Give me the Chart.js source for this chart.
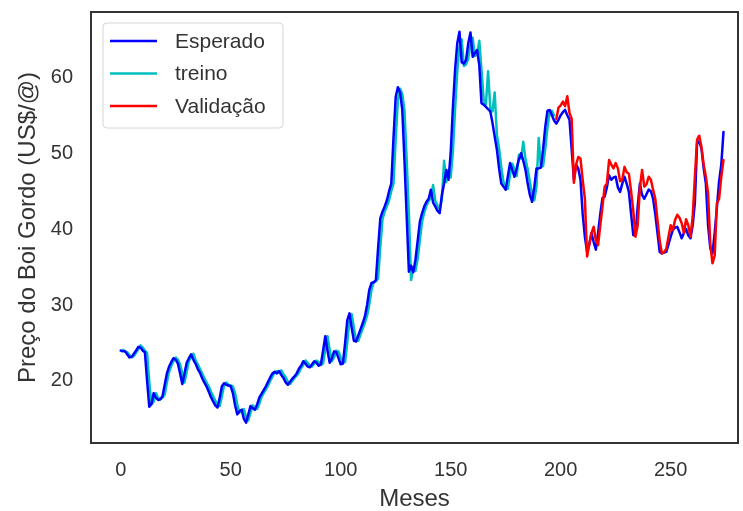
<!DOCTYPE html>
<html>
<head>
<meta charset="utf-8">
<script src="https://cdn.jsdelivr.net/npm/chart.js"></script>
<style>
  html, body { margin: 0; padding: 0; background: #fff; }
  canvas { display: block; }
</style>
</head>
<body>
<canvas id="precoChart" width="743" height="511"></canvas>
<script>
// Preço do boi gordo (mês 0..274)
const esperado = [
  24.0, 23.9, 23.9, 23.5, 23.1, 23.2, 23.6, 24.0, 24.5, 24.4,
  24.0, 23.8, 20.0, 16.6, 17.0, 18.4, 17.8, 17.5, 17.6, 18.0,
  19.5, 21.0, 21.9, 22.5, 23.0, 22.8, 22.3, 21.0, 19.6, 21.0,
  22.4, 23.0, 23.5, 22.8, 22.3, 21.6, 21.1, 20.4, 19.8, 19.3,
  18.6, 17.9, 17.3, 16.8, 16.5, 17.8, 19.3, 19.7, 19.5, 19.4,
  19.3, 18.4, 16.8, 15.6, 16.0, 16.2, 15.0, 14.5, 15.6, 16.7,
  16.4, 16.2, 16.9, 17.8, 18.3, 18.8, 19.3, 19.9, 20.5, 21.0,
  21.2, 21.0, 21.3, 20.8, 20.4, 19.8, 19.5, 19.9, 20.3, 20.6,
  21.0, 21.6, 22.0, 22.6, 22.3, 21.9, 21.8, 22.2, 22.6, 22.4,
  22.0, 22.2, 24.0, 25.9, 24.0, 22.4, 23.0, 23.9, 23.8, 23.0,
  22.2, 22.3, 25.0, 28.0, 28.9, 27.0, 25.3, 25.2, 26.0, 26.8,
  27.6, 28.5, 30.0, 32.0, 32.9, 33.0, 33.3, 37.5, 41.4, 42.3,
  43.0, 43.8, 45.0, 46.0, 52.0, 57.4, 58.7, 58.0, 55.7, 49.0,
  41.7, 34.4, 35.2, 34.3, 36.0, 38.5, 41.0, 42.1, 43.0, 43.6,
  44.0, 45.2, 43.5, 43.0, 42.4, 42.1, 44.5, 46.0, 47.8, 46.5,
  50.0, 56.0, 61.0, 64.5, 66.0, 62.0, 61.8, 62.3, 64.5, 65.9,
  62.7, 63.2, 63.6, 61.6, 56.6, 56.4, 56.1, 55.8, 55.5, 54.0,
  52.2, 50.5, 48.0, 46.0, 45.6, 45.2, 47.0, 48.7, 47.8, 46.9,
  48.0, 49.2, 50.0, 49.0, 47.8, 46.0, 44.5, 43.6, 45.5, 48.0,
  48.0, 48.1, 50.5, 53.5, 55.6, 55.7, 55.0, 54.3, 53.9, 54.4,
  55.0, 55.4, 55.7, 55.0, 54.4, 50.5, 46.5, 48.5, 48.0, 46.5,
  42.0, 39.0, 37.0, 38.0, 39.5, 38.3, 37.3, 39.5, 42.0, 44.1,
  44.3, 45.5, 47.1, 46.5, 46.8, 46.9, 45.5, 44.9, 46.0, 46.9,
  46.0, 44.9, 42.0, 39.2, 39.2, 43.0, 46.0, 44.5, 44.0, 44.6,
  45.2, 45.0, 44.0, 42.0, 39.5, 37.0, 36.8, 36.9, 37.0, 38.0,
  39.0, 39.9, 40.2, 40.3, 39.6, 38.8, 39.5, 40.0, 39.2, 38.8,
  40.5, 43.5, 51.3, 51.6, 50.6, 48.0, 46.0, 40.5, 37.5, 36.8,
  39.5, 42.8, 46.3, 48.5, 52.8
];

// previsão no conjunto de treino (meses 1..197)
const treino = [
  null, 24.1, 23.9, 23.8, 23.4, 23.1, 23.3, 23.7, 24.2, 24.7,
  24.4, 24.0, 23.7, 19.8, 16.9, 17.3, 18.4, 17.8, 17.6, 17.8,
  18.2, 19.8, 21.2, 22.0, 22.6, 23.1, 22.8, 22.2, 21.0, 19.8,
  21.2, 22.6, 23.2, 23.6, 22.8, 22.2, 21.6, 21.0, 20.4, 19.8,
  19.3, 18.6, 18.0, 17.4, 16.9, 16.7, 18.0, 19.4, 19.8, 19.5,
  19.4, 19.3, 18.4, 16.9, 15.8, 16.2, 16.3, 15.2, 14.8, 15.8,
  16.8, 16.5, 16.3, 17.0, 17.9, 18.4, 18.9, 19.4, 20.0, 20.6,
  21.1, 21.3, 21.1, 21.4, 20.9, 20.5, 19.9, 19.6, 20.0, 20.4,
  20.7, 21.1, 21.7, 22.1, 22.7, 22.4, 22.0, 21.9, 22.3, 22.7,
  22.5, 22.1, 22.3, 24.2, 25.9, 24.1, 22.6, 23.1, 24.0, 23.9,
  23.1, 22.4, 22.5, 25.1, 28.0, 28.8, 27.0, 25.4, 25.3, 26.1,
  26.9, 27.7, 28.6, 30.1, 32.0, 33.0, 33.1, 33.5, 37.6, 41.3,
  42.3, 43.0, 43.8, 45.0, 46.0, 51.8, 57.0, 58.5, 57.8, 55.6,
  49.2, 42.0, 33.3, 35.0, 34.5, 36.1, 38.6, 41.0, 42.2, 43.1,
  43.7, 44.1, 45.8, 43.7, 43.1, 42.6, 44.0, 49.0, 46.2, 47.8,
  46.8, 50.2, 55.8, 60.8, 64.0, 65.0, 61.5, 61.7, 62.5, 64.3,
  65.2, 62.8, 63.0, 64.8, 61.0, 57.0, 56.4, 60.8, 56.0, 55.5,
  58.0, 52.4, 50.6, 48.2, 46.2, 45.5, 45.3, 47.2, 48.6, 47.9,
  47.0, 49.8, 49.3, 51.5, 49.2, 47.9, 46.2, 44.7, 43.8, 45.6,
  52.0, 48.2, 48.3, 50.6, 53.4, 55.4, 55.6, 55.0
];

// previsão na validação (meses 198..274)
const validacaoInicio = 198;
const validacao = [
  54.5, 56.0, 56.3, 56.8, 56.2, 57.5, 55.3, 54.5, 46.1, 48.5,
  49.5, 49.3, 46.5, 44.0, 36.4, 38.0, 39.5, 40.3, 38.5, 37.9,
  40.5, 43.0, 45.6, 46.0, 49.1, 48.5, 48.0, 48.7, 48.0, 46.3,
  46.5, 48.2, 47.5, 47.3, 45.0, 42.4, 39.0, 40.5, 45.5, 47.8,
  45.6, 45.9, 46.9, 46.5, 45.2, 44.0, 41.2, 38.5, 36.8, 37.0,
  37.4, 39.0, 40.5, 39.9, 41.2, 41.9, 41.5, 40.8, 39.5, 41.3,
  40.5, 39.0, 41.6, 46.9, 51.8, 52.3, 50.8, 48.5, 46.9, 44.7,
  38.0, 35.5, 36.5, 43.4, 44.0, 46.9, 49.1
];

const meses = esperado.map((_, i) => i);
const xTicks = [0, 50, 100, 150, 200, 250];
const yTicks = [20, 30, 40, 50, 60];

const FONT = '"Liberation Sans", Arial, sans-serif';
const TEXT = '#333333';

function toPoints(values, offset) {
  return values.map((v, i) => ({ x: meses[i + offset], y: v }));
}

// sem folga extra das labels nas pontas: a área fica onde o layout manda
function noEdgePadding(scale) {
  scale.paddingTop = 0;
  scale.paddingBottom = 0;
  scale.paddingLeft = 0;
  scale.paddingRight = 0;
}

// moldura dos eixos (4 lados)
const framePlugin = {
  id: 'frame',
  afterDraw(chart) {
    const { ctx, chartArea: a } = chart;
    ctx.save();
    ctx.strokeStyle = '#333333';
    ctx.lineWidth = 2;
    ctx.strokeRect(a.left, a.top, a.right - a.left, a.bottom - a.top);
    ctx.restore();
  }
};

// legenda dentro da área do gráfico, canto superior esquerdo
const legendPlugin = {
  id: 'insideLegend',
  afterDraw(chart) {
    const ctx = chart.ctx;
    const sets = chart.data.datasets;
    const x0 = 103, y0 = 23, w = 180, h = 105;
    ctx.save();
    ctx.beginPath();
    ctx.roundRect(x0, y0, w, h, 4);
    ctx.fillStyle = 'rgba(255,255,255,0.85)';
    ctx.fill();
    ctx.strokeStyle = '#d6d6d6';
    ctx.lineWidth = 1;
    ctx.stroke();
    ctx.font = '21px ' + FONT;
    ctx.textBaseline = 'middle';
    sets.forEach((ds, i) => {
      const y = 41 + i * 32.5;
      ctx.beginPath();
      ctx.moveTo(110, y);
      ctx.lineTo(157, y);
      ctx.strokeStyle = ds.borderColor;
      ctx.lineWidth = 2.5;
      ctx.stroke();
      ctx.fillStyle = TEXT;
      ctx.fillText(ds.label, 175, y + 1);
    });
    ctx.restore();
  }
};

const ctx = document.getElementById('precoChart').getContext('2d');
new Chart(ctx, {
  type: 'line',
  data: {
    datasets: [
      {
        label: 'Esperado',
        data: toPoints(esperado, 0),
        borderColor: '#0000ff',
        borderWidth: 2.5,
        order: 1
      },
      {
        label: 'treino',
        data: toPoints(treino, 0),
        borderColor: '#00bfbf',
        borderWidth: 2.5,
        order: 2
      },
      {
        label: 'Validação',
        data: toPoints(validacao, validacaoInicio),
        borderColor: '#ff0000',
        borderWidth: 2.5,
        order: 0
      }
    ]
  },
  options: {
    responsive: false,
    animation: false,
    events: [],
    layout: { padding: { top: 12, right: 5, bottom: 0, left: 0 } },
    elements: {
      point: { radius: 0 },
      line: { tension: 0, borderJoinStyle: 'round', borderCapStyle: 'round' }
    },
    plugins: {
      legend: { display: false },
      tooltip: { enabled: false }
    },
    scales: {
      x: {
        type: 'linear',
        min: -13.5,
        max: 280.6,
        grid: { display: false, drawTicks: false },
        border: { display: false },
        afterBuildTicks(scale) {
          scale.ticks = xTicks.map(v => ({ value: v }));
        },
        afterFit(scale) {
          scale.height = 68;
          noEdgePadding(scale);
        },
        ticks: {
          padding: 15,
          color: TEXT,
          font: { family: FONT, size: 20 },
          maxRotation: 0
        },
        title: {
          display: true,
          text: 'Meses',
          color: TEXT,
          font: { family: FONT, size: 24, lineHeight: 1 },
          padding: { top: 0, bottom: 0 }
        }
      },
      y: {
        min: 11.83,
        max: 68.6,
        grid: { display: false, drawTicks: false },
        border: { display: false },
        afterBuildTicks(scale) {
          scale.ticks = yTicks.map(v => ({ value: v }));
        },
        afterFit(scale) {
          scale.width = 91;
          noEdgePadding(scale);
        },
        ticks: {
          padding: 18,
          color: TEXT,
          font: { family: FONT, size: 20 }
        },
        title: {
          display: true,
          text: 'Preço do Boi Gordo (US$/@)',
          color: TEXT,
          font: { family: FONT, size: 24, lineHeight: 1 },
          padding: { top: 16, bottom: 0 }
        }
      }
    }
  },
  plugins: [framePlugin, legendPlugin]
});
</script>
</body>
</html>
